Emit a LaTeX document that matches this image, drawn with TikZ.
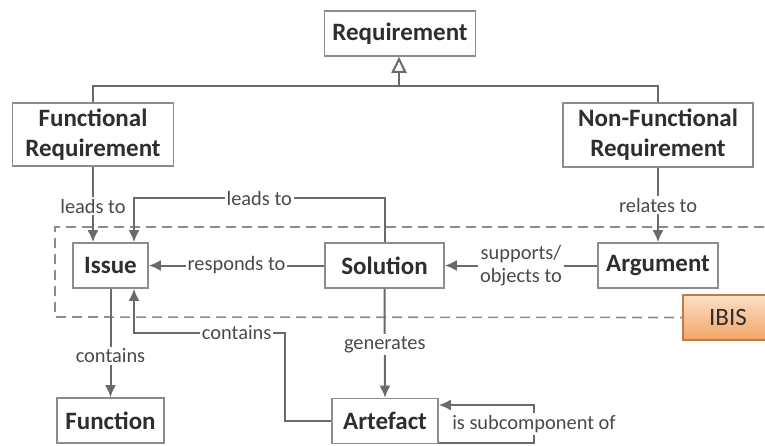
\documentclass[tikz,border=0pt]{standalone}
\usepackage{fontspec}
\setmainfont{Carlito}
\usetikzlibrary{arrows.meta}

\definecolor{linegray}{HTML}{6A6A6A}
\definecolor{boxgray}{HTML}{8C8C8C}
\definecolor{textgray}{HTML}{2E2E2E}
\definecolor{labelgray}{HTML}{4A4A4A}
\definecolor{ibistop}{HTML}{FCE0C8}
\definecolor{ibisbottom}{HTML}{F2A466}
\definecolor{ibisborder}{HTML}{C27A48}

\tikzset{
  entity/.style={draw=boxgray, line width=0.8pt, fill=white, text=textgray,
    font=\fontsize{12.5}{15}\selectfont\bfseries, align=center, inner sep=0pt,
    minimum height=22.5pt},
  relation/.style={draw=linegray, line width=1pt, -{Latex[length=6pt,width=5.5pt]}},
  rellabel/.style={fill=white, text=labelgray, font=\fontsize{10.2}{11.5}\selectfont,
    inner sep=1pt, align=center},
}

\begin{document}
\begin{tikzpicture}[x=0.5pt, y=-0.5pt]
    \clip (0,0) rectangle (765,445);

    % IBIS region
    \node[draw=ibisborder, line width=0.6pt, top color=ibistop, bottom color=ibisbottom,
      minimum width=45pt, minimum height=22.5pt, inner sep=0pt, text=textgray,
      font=\fontsize{12.5}{15}\selectfont] (ibis) at (728,317.5) {IBIS};
    \draw[boxgray, line width=0.8pt, dash pattern=on 5pt off 3pt]
      (780,227) -- (55,227) -- (55,317) -- (ibis.west);

    % Boxes
    \node[entity, minimum width=75.5pt] (req) at (400,33.5) {Requirement};
    \node[entity, minimum width=80.5pt, minimum height=31.5pt] (freq) at (93,134.5) {Functional\\Requirement};
    \node[entity, minimum width=95pt, minimum height=32pt] (nfreq) at (658,135) {Non-Functional\\Requirement};
    \node[entity, minimum width=37.5pt] (issue) at (110.5,265.5) {Issue};
    \node[entity, minimum width=59.5pt] (solution) at (384.5,265.5) {Solution};
    \node[entity, minimum width=60pt] (argument) at (658,265.5) {Argument};
    \node[entity, minimum width=53.5pt] (function) at (110.5,420.5) {Function};
    \node[entity, minimum width=53pt] (artefact) at (385,421) {Artefact};

    % Generalization
    \coordinate (gen) at (399,86);
    \draw[linegray, line width=1pt] (freq.north) |- (gen) -| (nfreq.north);
    \draw[linegray, line width=1pt, -{Triangle[open, length=8pt, width=7.5pt]}] (gen) -- (req.south -| gen);

    % Relations
    \draw[relation] (freq.south) -- (freq.south |- issue.north) node[rellabel, pos=0.52]{leads to};
    \coordinate (lt) at (134,198);
    \draw[relation] (solution.north) |- (lt) node[rellabel, pos=0.75]{leads to} -- (lt |- issue.north);
    \draw[relation] (solution.west) -- (issue.east) node[rellabel, midway]{responds to};
    \draw[relation] (argument.west) -- (solution.east) node[rellabel, midway]{supports/\\objects to};
    \draw[relation] (nfreq.south) -- (argument.north) node[rellabel, midway]{relates to};
    \draw[relation] (issue.south) -- (function.north) node[rellabel, pos=0.62]{contains};
    \draw[relation] (solution.south) -- (artefact.north) node[rellabel, pos=0.51]{generates};

    % Artefact contains
    \coordinate (ac) at (285,333);
    \coordinate (ai) at (134,333);
    \draw[relation] (artefact.west) -| (ac) -- (ai) node[rellabel, pos=0.32]{contains} -- (ai |- issue.south);

    % Self loop
    \coordinate (sl) at (534,405);
    \draw[relation] ([yshift=0.5pt]artefact.south east) -| (sl) node[rellabel, pos=0.75]{is subcomponent of} -- (sl -| artefact.east);
\end{tikzpicture}
\end{document}
